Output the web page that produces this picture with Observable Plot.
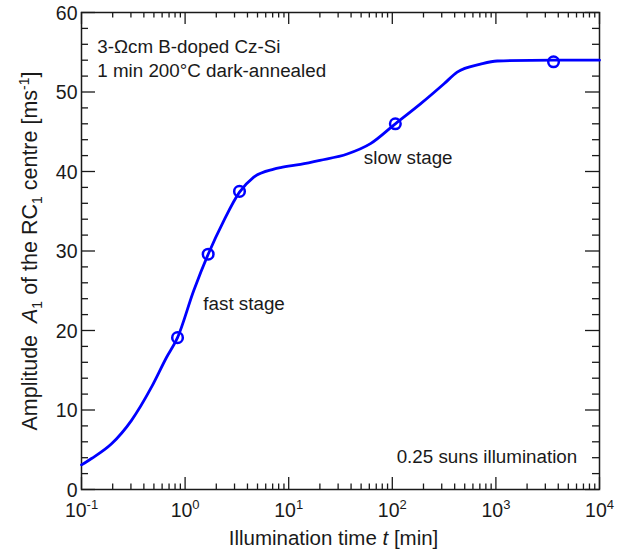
<!DOCTYPE html>
<html><head><meta charset="utf-8">
<script src="https://cdn.jsdelivr.net/npm/d3@7"></script>
<script src="https://cdn.jsdelivr.net/npm/@observablehq/plot@0.6"></script>
<style>body{margin:0;background:#fff}</style>
</head><body><div id="chart"></div>
<script>
// fitted curve (illumination time in min, amplitude A1 in ms^-1)
const curveT = [0.1, 0.125, 0.195, 0.304, 0.475, 0.661, 0.845, 1.21, 1.67, 2.36, 3.35, 4.6, 7.18, 8.34, 13.0, 20.0, 36.7, 61.6, 107, 187, 314, 423, 710, 1030, 3600, 10000];
const curveA = [3.1, 3.9, 5.75, 8.7, 12.9, 16.6, 19.1, 25.0, 29.6, 33.8, 37.4, 39.3, 40.3, 40.5, 40.9, 41.4, 42.2, 43.5, 46.0, 48.5, 51.0, 52.5, 53.5, 53.9, 54.0, 54.0];
// measured points (open circles)
const pointT = [0.845, 1.67, 3.35, 107, 3600];
const pointA = [19.1, 29.6, 37.5, 46.0, 53.8];
// axes
const xTickValues = [0.1, 1, 10, 100, 1000, 10000];
const yTickValues = [0, 10, 20, 30, 40, 50, 60];
// annotations (anchored in data space)
const annoText = ["3-Ωcm B-doped Cz-Si", "1 min 200°C dark-annealed", "fast stage", "slow stage", "0.25 suns illumination"];
const annoT = [0.142, 0.142, 1.50, 53.1, 6100];
const annoA = [54.9, 51.86, 22.6, 40.9, 3.3];
const annoAnchor = ["start", "start", "start", "start", "end"];
const xTitleSegs = [{t: "Illumination time "}, {t: "t", it: true}, {t: " [min]"}];
const yTitleSegs = [{t: "Amplitude \u00a0"}, {t: "A", it: true}, {t: "1", sub: true}, {t: " of the RC"}, {t: "1", sub: true}, {t: " centre [ms"}, {t: "-1", sup: true}, {t: "]"}];

const W = 624, H = 552, mL = 81, mR = 25, mT = 12, mB = 63;
const pw = W - mL - mR, ph = H - mT - mB;
const curve = curveT.map((t, i) => ({t, a: curveA[i]}));
const pts = pointT.map((t, i) => ({t, a: pointA[i]}));
const annos = annoText.map((s, i) => ({s, t: annoT[i], a: annoA[i], anchor: annoAnchor[i]}));
const minorX = [];
for (let e = -1; e < 4; e++) for (let k = 2; k <= 9; k++) minorX.push(k * Math.pow(10, e));
const minorY = d3.range(0, 61, 2).filter(v => v % 10 !== 0);
const ink = "#1a1a1a";
const tickStyle = {stroke: ink, strokeWidth: 1.3};

const chart = Plot.plot({
  width: W, height: H, marginLeft: mL, marginRight: mR, marginTop: mT, marginBottom: mB,
  style: {fontFamily: "'Liberation Sans', Arial, Helvetica, sans-serif", fontSize: "18px", background: "#fff", color: ink},
  x: {type: "log", domain: [0.1, 1e4]},
  y: {domain: [0, 60]},
  marks: [
    Plot.tickX(xTickValues, {x: d => d, insetTop: ph - 12, ...tickStyle}),
    Plot.tickX(xTickValues, {x: d => d, insetBottom: ph - 12, ...tickStyle}),
    Plot.tickX(minorX, {x: d => d, insetTop: ph - 5.5, ...tickStyle}),
    Plot.tickX(minorX, {x: d => d, insetBottom: ph - 5.5, ...tickStyle}),
    Plot.tickY(yTickValues, {y: d => d, insetRight: pw - 14, ...tickStyle}),
    Plot.tickY(yTickValues, {y: d => d, insetLeft: pw - 14, ...tickStyle}),
    Plot.tickY(minorY, {y: d => d, insetRight: pw - 7, ...tickStyle}),
    Plot.tickY(minorY, {y: d => d, insetLeft: pw - 7, ...tickStyle}),
    Plot.frame({stroke: ink, strokeWidth: 1.5}),
    Plot.axisX(xTickValues, {tickSize: 0, tickPadding: 14, fontSize: 19.5, label: null, tickFormat: d => "10^" + Math.round(Math.log10(d))}),
    Plot.axisY(yTickValues, {tickSize: 0, tickPadding: 4, fontSize: 19.5, label: null, dy: 1}),
    Plot.line(curve, {x: "t", y: "a", stroke: "#0000ff", strokeWidth: 2.8, curve: "monotone-x"}),
    Plot.dot(pts, {x: "t", y: "a", r: 5.3, stroke: "#0000ff", strokeWidth: 2.5, fill: "none"}),
    Plot.text(annos.filter(d => d.anchor === "start"), {x: "t", y: "a", text: "s", textAnchor: "start", lineAnchor: "bottom", fontSize: 18.8, fill: ink}),
    Plot.text(annos.filter(d => d.anchor === "end"), {x: "t", y: "a", text: "s", textAnchor: "end", lineAnchor: "bottom", fontSize: 18.8, fill: ink}),
    Plot.text(["@@xtitle"], {frameAnchor: "bottom", dx: -7, dy: 55, textAnchor: "middle", lineAnchor: "bottom", fontSize: 20.5, fill: ink}),
    Plot.text(["@@ytitle"], {frameAnchor: "left", rotate: -90, dx: -45, textAnchor: "middle", lineAnchor: "bottom", fontSize: 21.5, fill: ink})
  ]
});

function rich(el, segs, small) {
  const t = d3.select(el); t.text(null);
  let shift = 0;
  for (const s of segs) {
    const sp = t.append("tspan").text(s.t);
    const target = s.sub ? 5 : s.sup ? -8 : 0;
    if (target !== shift) { sp.attr("dy", target - shift); shift = target; }
    if (s.sub || s.sup) sp.attr("font-size", small);
    if (s.it) sp.attr("font-style", "italic");
  }
}
const svg = d3.select(chart);
svg.selectAll('g[aria-label="x-axis tick label"] text').each(function() {
  const [base, exp] = this.textContent.split("^");
  rich(this, [{t: base}, {t: exp, sup: true}], 13);
});
svg.selectAll("text").each(function() {
  if (this.textContent === "@@xtitle") rich(this, xTitleSegs, 13);
  else if (this.textContent === "@@ytitle") rich(this, yTitleSegs, 14);
});
document.getElementById("chart").append(chart);
</script>
</body></html>
